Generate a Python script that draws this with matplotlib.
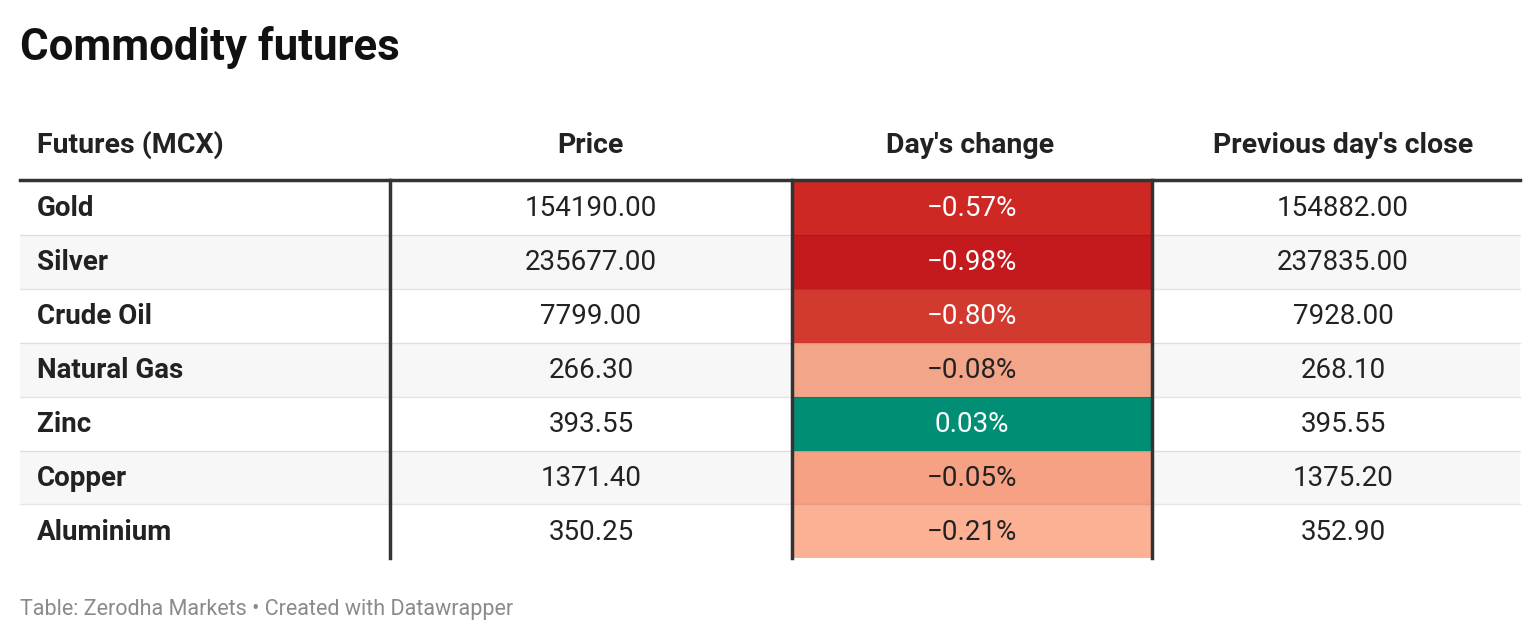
import matplotlib
matplotlib.use("Agg")
import matplotlib.pyplot as plt
from matplotlib.patches import Rectangle

plt.rcParams['font.family'] = ['Roboto', 'DejaVu Sans']

commodities = ["Gold", "Silver", "Crude Oil", "Natural Gas", "Zinc", "Copper", "Aluminium"]
price = ["154190.00", "235677.00", "7799.00", "266.30", "393.55", "1371.40", "350.25"]
change = ["\u22120.57%", "\u22120.98%", "\u22120.80%", "\u22120.08%", "0.03%", "\u22120.05%", "\u22120.21%"]
prev_close = ["154882.00", "237835.00", "7928.00", "268.10", "395.55", "1375.20", "352.90"]
change_colors = ["#cd2823", "#c41a1d", "#d2392f", "#f2a589", "#008f74", "#f6a184", "#fcb195"]
change_text = ["white", "white", "white", "#222222", "white", "#222222", "#222222"]
headers = ["Futures (MCX)", "Price", "Day's change", "Previous day's close"]

fig = plt.figure(figsize=(15.4, 6.44), dpi=100)
ax = fig.add_axes([0, 0, 1, 1])
ax.set_xlim(0, 1540)
ax.set_ylim(644, 0)
ax.axis("off")

ax.text(20, 47, "Commodity futures", fontsize=31.5, fontweight="bold", va="center", color="#111111")

hy = 145
hfs = 20.5
ax.text(37, hy, headers[0], fontsize=hfs, fontweight="bold", va="center", color="#222222")
ax.text(590, hy, headers[1], fontsize=hfs, fontweight="bold", va="center", ha="center", color="#222222")
ax.text(970, hy, headers[2], fontsize=hfs, fontweight="bold", va="center", ha="center", color="#222222")
ax.text(1343, hy, headers[3], fontsize=hfs, fontweight="bold", va="center", ha="center", color="#222222")

fs = 20
top, rh = 181, 53.9
for i, name in enumerate(commodities):
    y0 = top + i * rh
    yc = y0 + rh / 2 + 1
    if i % 2 == 1:
        ax.add_patch(Rectangle((20, y0), 1500, rh, color="#f7f7f7", lw=0, zorder=0))
    ax.add_patch(Rectangle((792, y0), 360, rh, color=change_colors[i], lw=0, zorder=1))
    if i > 0:
        ax.plot([20, 1520], [y0, y0], color="black", alpha=0.1, lw=1, zorder=2)
    ax.text(37, yc, name, fontsize=fs, fontweight="bold", va="center", color="#222222")
    ax.text(591, yc, price[i], fontsize=fs, va="center", ha="center", color="#222222")
    ax.text(972, yc, change[i], fontsize=fs, va="center", ha="center", color=change_text[i], zorder=3)
    ax.text(1343, yc, prev_close[i], fontsize=fs, va="center", ha="center", color="#222222")

bottom = top + len(commodities) * rh
ax.plot([20, 1520], [180, 180], color="#333333", lw=2.5, zorder=4)
for x in [390, 792, 1152]:
    ax.plot([x, x], [180, bottom], color="#333333", lw=2.5, zorder=4)

ax.text(20, 610, "Table: Zerodha Markets \u2022 Created with Datawrapper", fontsize=15.5,
        va="center", color="#8a8a8a")

fig.savefig("out.png", dpi=100)
